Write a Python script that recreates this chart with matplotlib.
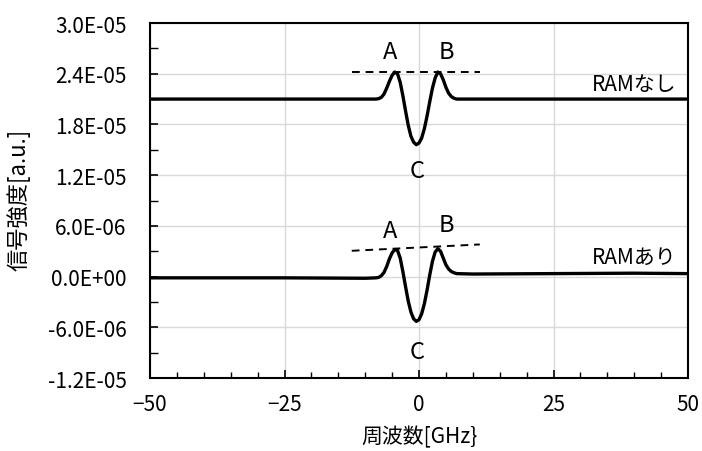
import matplotlib
matplotlib.use("Agg")
import matplotlib.pyplot as plt
from matplotlib.ticker import MultipleLocator, FixedLocator

plt.rcParams['font.family'] = ['Noto Sans CJK JP', 'DejaVu Sans']

# Data (signal in units of 1e-6)
freq = [-50, -25, -10, -8, -7.5, -7, -6.5, -6, -5.5, -5, -4.5, -4, -3.5, -3, -2.5,
        -2, -1.5, -1, -0.5, 0, 0.5, 1, 1.5, 2, 2.5, 3, 3.5, 4, 4.5, 5, 5.5,
        6, 6.5, 7, 10, 25, 40, 50]
no_ram = [21.0, 21.0, 21.0, 21.0, 21.05, 21.2, 21.6, 22.3, 23.1, 23.8, 24.2, 24.0,
          23.0, 21.4, 19.6, 17.9, 16.6, 15.9, 15.6, 15.8, 16.4, 17.5, 19.0, 20.7,
          22.3, 23.5, 24.2, 24.0, 23.3, 22.4, 21.7, 21.3, 21.1, 21.0, 21.0, 21.0,
          21.0, 21.0]
with_ram = [-0.15, -0.15, -0.2, -0.15, -0.1, 0.1, 0.5, 1.2, 2.1, 2.8, 3.2, 3.1,
            2.2, 0.6, -1.2, -2.9, -4.2, -5.0, -5.3, -5.1, -4.4, -3.2, -1.6, 0.2,
            1.8, 2.9, 3.3, 3.0, 2.2, 1.4, 0.9, 0.6, 0.45, 0.35, 0.3, 0.35, 0.4,
            0.35]

# dashed reference lines through the A/B peaks
dash_x = [-12.5, 11.3]
dash_top = [24.2, 24.2]
dash_bottom = [3.05, 3.8]

yticks = [-12, -6, 0, 6, 12, 18, 24, 30]
ytick_labels = ['-1.2E-05', '-6.0E-06', '0.0E+00', '6.0E-06', '1.2E-05',
                '1.8E-05', '2.4E-05', '3.0E-05']
xticks = [-50, -25, 0, 25, 50]
xtick_labels = ['\u221250', '\u221225', '0', '25', '50']

scale = 1e-6

fig = plt.figure(figsize=(7.02, 4.52), dpi=100)
ax = fig.add_axes([150 / 702, 73 / 452, 538 / 702, 355 / 452])

ax.plot(freq, [v * scale for v in no_ram], color='black', lw=2.4, zorder=3)
ax.plot(freq, [v * scale for v in with_ram], color='black', lw=2.4, zorder=3)
ax.plot(dash_x, [v * scale for v in dash_top], color='black', lw=1.4,
        ls=(0, (4, 3)), zorder=3)
ax.plot(dash_x, [v * scale for v in dash_bottom], color='black', lw=1.4,
        ls=(0, (4, 3)), zorder=3)

ax.set_xlim(-50, 50)
ax.set_ylim(-12 * scale, 30 * scale)

ax.xaxis.set_major_locator(FixedLocator(xticks))
ax.set_xticklabels(xtick_labels)
ax.xaxis.set_minor_locator(MultipleLocator(5))
ax.yaxis.set_major_locator(FixedLocator([v * scale for v in yticks]))
ax.set_yticklabels(ytick_labels)
ax.yaxis.set_minor_locator(MultipleLocator(3 * scale))

ax.tick_params(axis='both', which='both', direction='in', color='black')
ax.tick_params(axis='x', which='major', length=6, width=1.2, pad=11, labelsize=15)
ax.tick_params(axis='x', which='minor', length=4, width=1.0)
ax.tick_params(axis='y', which='major', length=6, width=1.2, pad=17, labelsize=15)
ax.tick_params(axis='y', which='minor', length=6, width=1.0)

ax.grid(True, which='major', color='#d9d9d9', lw=1.0)
ax.set_axisbelow(True)
for s in ax.spines.values():
    s.set_linewidth(1.5)
    s.set_color('black')

# annotations
lab = dict(fontsize=17, ha='center', va='center')
ax.text(-5.4, 26.6 * scale, 'A', **lab)
ax.text(5.0, 26.6 * scale, 'B', **lab)
ax.text(-0.4, 12.5 * scale, 'C', **lab)
ax.text(-5.4, 5.4 * scale, 'A', **lab)
ax.text(5.0, 6.2 * scale, 'B', **lab)
ax.text(-0.4, -8.9 * scale, 'C', **lab)
ax.text(47.8, 22.8 * scale, 'RAMなし', fontsize=15, ha='right', va='center')
ax.text(47.8, 2.3 * scale, 'RAMあり', fontsize=15, ha='right', va='center')

ax.set_xlabel('周波数[GHz}', fontsize=15, va='center')
ax.set_ylabel('信号強度[a.u.]', fontsize=16, va='center')
ax.xaxis.set_label_coords(0.5, -0.163)
ax.yaxis.set_label_coords(-0.245, 0.504)

fig.savefig('out.png', dpi=100)
